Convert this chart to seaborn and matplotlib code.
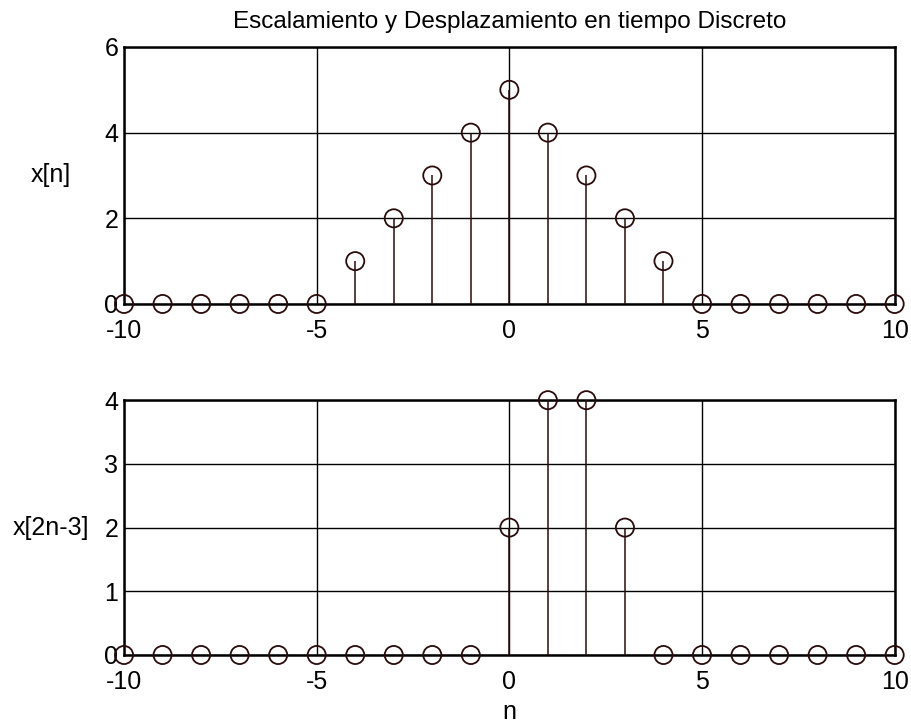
import numpy as np
import pandas as pd
import matplotlib
matplotlib.use("Agg")
import matplotlib.pyplot as plt
import seaborn as sns

# Discrete-time index and signals
n = list(range(-10, 11))
x_n = [0, 0, 0, 0, 0, 0, 1, 2, 3, 4, 5, 4, 3, 2, 1, 0, 0, 0, 0, 0, 0]
x_2n_3 = [0, 0, 0, 0, 0, 0, 0, 0, 0, 0, 2, 4, 4, 2, 0, 0, 0, 0, 0, 0, 0]

x_ticks = [-10, -5, 0, 5, 10]
top_yticks = [0, 2, 4, 6]
bottom_yticks = [0, 1, 2, 3, 4]

sns.set_style("white")
plt.rcParams["font.family"] = ["Liberation Sans", "DejaVu Sans"]
plt.rcParams["axes.unicode_minus"] = False
plt.rcParams["text.color"] = "black"
plt.rcParams["axes.labelcolor"] = "black"

stem_color = "#2a0c0c"

fig = plt.figure(figsize=(9.12, 7.26), dpi=100)
ax1 = fig.add_axes([0.136, 0.5813, 0.845, 0.354])
ax2 = fig.add_axes([0.136, 0.0978, 0.845, 0.351])


def stem_panel(ax, values, yticks, ylabel):
    df = pd.DataFrame({"n": n, "v": values})
    ax.set_xlim(-10, 10)
    ax.set_ylim(yticks[0], yticks[-1])
    ax.set_xticks(x_ticks)
    ax.set_yticks(yticks)
    ax.grid(True, color="black", linewidth=1.0)
    ax.set_axisbelow(True)
    ax.vlines(df["n"], 0, df["v"], color=stem_color, linewidth=1.1, zorder=3)
    sns.scatterplot(data=df, x="n", y="v", ax=ax, marker="o", s=170,
                    facecolor="none", edgecolor=stem_color, linewidth=1.3,
                    zorder=4, clip_on=False, legend=False)
    for sp in ax.spines.values():
        sp.set_visible(True)
        sp.set_color("black")
        sp.set_linewidth(1.8)
    ax.tick_params(axis="both", labelsize=18, length=0, colors="black")
    ax.tick_params(axis="x", pad=11)
    ax.tick_params(axis="y", pad=4)
    ax.set_xlabel("")
    ax.set_ylabel(ylabel, fontsize=18, rotation=0, va="center", ha="center",
                  color="black")
    ax.yaxis.set_label_coords(-0.095, 0.5)


stem_panel(ax1, x_n, top_yticks, "x[n]")
stem_panel(ax2, x_2n_3, bottom_yticks, "x[2n-3]")

ax1.set_title("Escalamiento y Desplazamiento en tiempo Discreto",
              fontsize=17.5, pad=14, color="black")
ax2.set_xlabel("n", fontsize=18, labelpad=4, color="black")

fig.savefig("out.png", dpi=100, facecolor="white")
